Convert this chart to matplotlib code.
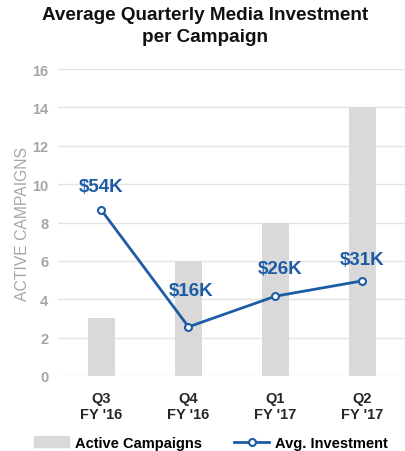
import matplotlib.pyplot as plt
from matplotlib.patches import Patch
from matplotlib.lines import Line2D

plt.rcParams['font.family'] = ['Liberation Sans', 'DejaVu Sans']

quarters = ["Q3\nFY '16", "Q4\nFY '16", "Q1\nFY '17", "Q2\nFY '17"]
active_campaigns = [3, 6, 8, 14]
avg_investment = [54, 16, 26, 31]  # $K
invest_labels = ["$54K", "$16K", "$26K", "$31K"]
# label offsets in points (placement only)
label_offsets = [(0, 11), (2, 20), (3, 14), (0, 9)]

bar_color = "#d9d9d9"
line_color = "#1c5ca5"
grey = "#a6a6a6"


def main():
    fig = plt.figure(figsize=(4.06, 4.52), dpi=100)
    ax = fig.add_axes([58 / 406, 0.166, 1 - 58 / 406, 0.679])

    x = range(len(quarters))
    ax.bar(x, active_campaigns, width=0.31, color=bar_color, zorder=2)
    ax.set_ylim(0, 16)
    ax.set_xlim(-0.5, 3.5)
    ax.set_yticks(range(0, 17, 2))
    ax.grid(axis="y", color="#e3e3e3", linewidth=1, zorder=0)
    for s in ax.spines.values():
        s.set_visible(False)
    ax.tick_params(axis="both", length=0)
    ax.tick_params(axis="y", colors=grey, labelsize=10.5, pad=7)
    for t in ax.get_yticklabels():
        t.set_fontweight("bold")
    ax.set_xticks(list(x))
    ax.set_xticklabels(quarters, fontsize=10.5, fontweight="bold", color="#262626")
    ax.tick_params(axis="x", pad=11)
    ax.set_ylabel("ACTIVE CAMPAIGNS", color=grey, fontsize=11.3, labelpad=1.5)

    # investment on a hidden secondary scale
    ax2 = ax.twinx()
    ax2.set_ylim(0, 100)
    ax2.axis("off")
    ax2.plot(x, avg_investment, color=line_color, linewidth=2, marker="o",
             markersize=5, markerfacecolor="white", markeredgewidth=1.5, zorder=3)
    for xi, v, lab, off in zip(x, avg_investment, invest_labels, label_offsets):
        ax2.annotate(lab, (xi, v), xytext=off, textcoords="offset points",
                     ha="center", va="bottom", color=line_color,
                     fontsize=13.5, fontweight="bold")

    fig.suptitle("Average Quarterly Media Investment\nper Campaign", x=0.505, y=0.985,
                 fontsize=13.6, fontweight="bold", color="#111111", linespacing=1.4)

    handles = [Patch(color=bar_color),
               Line2D([], [], color=line_color, linewidth=2, marker="o", markersize=5,
                      markerfacecolor="white", markeredgewidth=1.5)]
    fig.legend(handles, ["Active Campaigns", "Avg. Investment"], loc="lower center",
               bbox_to_anchor=(0.52, -0.026), ncol=2, frameon=False,
               prop={"weight": "bold", "size": 10.5}, handlelength=2.4,
               columnspacing=2.2, handletextpad=0.4)

    fig.savefig("out.png", dpi=100)


if __name__ == '__main__':
    main()
